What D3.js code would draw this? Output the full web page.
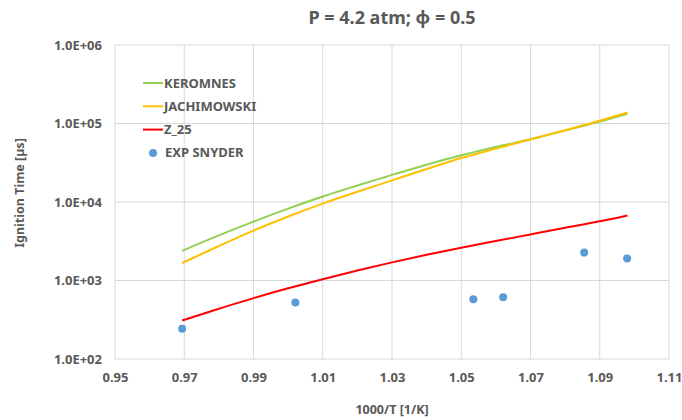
<!DOCTYPE html>
<html>
<head>
<meta charset="utf-8">
<script src="https://d3js.org/d3.v7.min.js"></script>
<style>
  body { margin: 0; background: #fff; }
  text { font-family: "Noto Sans", "Open Sans", sans-serif; font-weight: bold; fill: #595959; }
</style>
</head>
<body>
<div id="chart"></div>
<script>
// Model x values (1000/T) and ignition delays in microseconds
var modelX = [0.9694, 0.98, 0.99, 1.00, 1.01, 1.02, 1.03, 1.04, 1.05, 1.06, 1.07, 1.08, 1.09, 1.098];
var keromnes = [2390, 3760, 5620, 8220, 11750, 16200, 22130, 29850, 39350, 50100, 63100, 81300, 105900, 133400];
var jachimowski = [1670, 2750, 4320, 6530, 9550, 13490, 18840, 26300, 36310, 47860, 62660, 82220, 108400, 138000];
var z25 = [310, 437, 597, 796, 1040, 1340, 1702, 2128, 2618, 3184, 3864, 4688, 5675, 6745];

// Experimental points (Snyder)
var expX = [0.9694, 1.0021, 1.0535, 1.0621, 1.0855, 1.0979];
var expY = [243, 525, 578, 614, 2270, 1905];

// Axis ticks
var xTicks = [0.95, 0.97, 0.99, 1.01, 1.03, 1.05, 1.07, 1.09, 1.11];
var yTicks = [1e2, 1e3, 1e4, 1e5, 1e6];

var svgWidth = 682;
var svgHeight = 420;

var margin = {
  top: 45,
  right: 13,
  bottom: 61,
  left: 115
};

var width = svgWidth - margin.left - margin.right;
var height = svgHeight - margin.top - margin.bottom;

var svg = d3.select("#chart")
  .append("svg")
  .attr("width", svgWidth)
  .attr("height", svgHeight);

var chartGroup = svg.append("g")
  .attr("transform", `translate(${margin.left}, ${margin.top})`);

var xScale = d3.scaleLinear()
  .domain([0.95, 1.11])
  .range([0, width]);

var yScale = d3.scaleLog()
  .domain([1e2, 1e6])
  .range([height, 0]);

// Gridlines
chartGroup.append("g")
  .selectAll("line")
  .data(xTicks)
  .enter()
  .append("line")
  .attr("x1", d => xScale(d))
  .attr("x2", d => xScale(d))
  .attr("y1", 0)
  .attr("y2", height)
  .attr("stroke", "#d9d9d9")
  .attr("stroke-width", 1);

chartGroup.append("g")
  .selectAll("line")
  .data(yTicks)
  .enter()
  .append("line")
  .attr("x1", 0)
  .attr("x2", width)
  .attr("y1", d => yScale(d))
  .attr("y2", d => yScale(d))
  .attr("stroke", "#d9d9d9")
  .attr("stroke-width", 1);

// Axes (labels only, gridlines do the lines)
var bottomAxis = d3.axisBottom(xScale)
  .tickValues(xTicks)
  .tickSize(0)
  .tickPadding(14)
  .tickFormat(d3.format(".2f"));

var leftAxis = d3.axisLeft(yScale)
  .tickValues(yTicks)
  .tickSize(0)
  .tickPadding(13)
  .tickFormat(d => "1.0E+0" + Math.round(Math.log10(d)));

var xAxisG = chartGroup.append("g")
  .attr("transform", `translate(0, ${height})`)
  .call(bottomAxis);
var yAxisG = chartGroup.append("g")
  .call(leftAxis);

[xAxisG, yAxisG].forEach(function(g) {
  g.select(".domain").remove();
  g.selectAll("text")
    .style("font-size", "13px")
    .style("font-family", "'Noto Sans', sans-serif")
    .style("font-weight", "bold")
    .style("fill", "#595959");
});

// Lines
var line = d3.line()
  .curve(d3.curveMonotoneX)
  .x(d => xScale(d[0]))
  .y(d => yScale(d[1]));

var series = [
  { name: "KEROMNES", values: keromnes, color: "#92d050" },
  { name: "JACHIMOWSKI", values: jachimowski, color: "#ffc000" },
  { name: "Z_25", values: z25, color: "#ff0000" }
];

series.forEach(function(s) {
  chartGroup.append("path")
    .datum(modelX.map((x, i) => [x, s.values[i]]))
    .attr("fill", "none")
    .attr("stroke", s.color)
    .attr("stroke-width", 2)
    .attr("d", line);
});

// Experimental points
chartGroup.selectAll(".exp")
  .data(expX.map((x, i) => [x, expY[i]]))
  .enter()
  .append("circle")
  .attr("class", "exp")
  .attr("cx", d => xScale(d[0]))
  .attr("cy", d => yScale(d[1]))
  .attr("r", 4)
  .attr("fill", "#5b9bd5");

// Legend
var legend = svg.append("g")
  .attr("transform", "translate(143, 83)");

series.forEach(function(s, i) {
  legend.append("line")
    .attr("x1", 0)
    .attr("x2", 20)
    .attr("y1", i * 23.3)
    .attr("y2", i * 23.3)
    .attr("stroke", s.color)
    .attr("stroke-width", 2);
  legend.append("text")
    .attr("x", 21)
    .attr("y", i * 23.3)
    .attr("dy", "0.35em")
    .style("font-size", "13px")
    .text(s.name);
});

legend.append("circle")
  .attr("cx", 10)
  .attr("cy", 3 * 23.3)
  .attr("r", 4)
  .attr("fill", "#5b9bd5");
legend.append("text")
  .attr("x", 22)
  .attr("y", 3 * 23.3)
  .attr("dy", "0.35em")
  .style("font-size", "13px")
  .text("EXP SNYDER");

// Title
svg.append("text")
  .attr("x", margin.left + width / 2)
  .attr("y", 24)
  .attr("text-anchor", "middle")
  .style("font-size", "18px")
  .text("P = 4.2 atm; φ = 0.5");

// Axis labels
svg.append("text")
  .attr("transform", `translate(24, ${193}) rotate(-90)`)
  .attr("text-anchor", "middle")
  .style("font-size", "12.5px")
  .text("Ignition Time [µs]");

svg.append("text")
  .attr("x", margin.left + width / 2)
  .attr("y", 414)
  .attr("text-anchor", "middle")
  .style("font-size", "12.5px")
  .text("1000/T [1/K]");
</script>
</body>
</html>
